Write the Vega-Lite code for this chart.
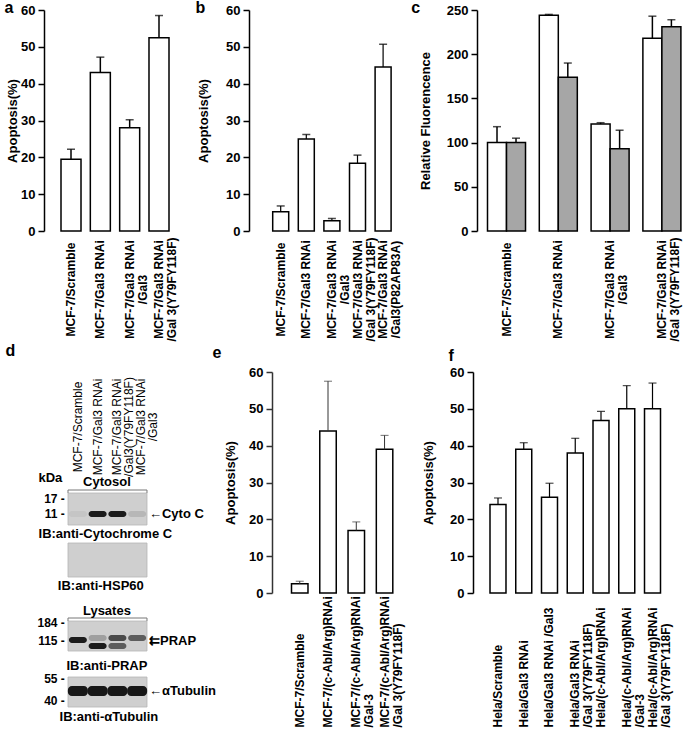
{
  "$schema": "https://vega.github.io/schema/vega-lite/v6.json",
  "padding": {"left": 4, "top": 0, "right": 0, "bottom": 0},
  "background": "white",
  "config": {
    "view": {"stroke": null},
    "font": "Liberation Sans",
    "axis": {"labelFont": "Liberation Sans", "labelFontWeight": "bold", "labelFontSize": 13, "labelColor": "black", "titleFont": "Liberation Sans", "titleFontWeight": "bold", "titleFontSize": 13, "titleColor": "black", "grid": false, "domainColor": "black", "tickColor": "black", "domainWidth": 1.5, "tickWidth": 1.5, "labelOverlap": false},
    "title": {"font": "Liberation Sans", "fontWeight": "bold", "fontSize": 16, "anchor": "start", "frame": "bounds", "color": "black"},
    "text": {"font": "Liberation Sans", "fontWeight": "bold", "fontSize": 13, "baseline": "middle", "color": "black"}
  },
  "datasets": {
    "a": [
      {"group": "MCF-7/Scramble", "value": 19.5, "err": 22.2},
      {"group": "MCF-7/Gal3 RNAi", "value": 43, "err": 47.2},
      {"group": "MCF-7/Gal3 RNAi\n/Gal3", "value": 28, "err": 30.2},
      {"group": "MCF-7/Gal3 RNAi\n/Gal 3(Y79FY118F)", "value": 52.5, "err": 58.5}
    ],
    "b": [
      {"group": "MCF-7/Scramble", "value": 5.2, "err": 6.8},
      {"group": "MCF-7/Gal3 RNAi", "value": 25, "err": 26.2},
      {"group": "MCF-7/Gal3 RNAi\n/Gal3", "value": 2.8, "err": 3.4},
      {"group": "MCF-7/Gal3 RNAi\n/Gal 3(Y79FY118F)", "value": 18.4, "err": 20.6},
      {"group": "MCF-7/Gal3 RNAi\n/Gal3(P82AP83A)", "value": 44.5, "err": 50.7}
    ],
    "c": [
      {"group": "MCF-7/Scramble", "series": "1", "value": 100, "err": 118},
      {"group": "MCF-7/Scramble", "series": "2", "value": 100, "err": 105},
      {"group": "MCF-7/Gal3 RNAi", "series": "1", "value": 244, "err": 245},
      {"group": "MCF-7/Gal3 RNAi", "series": "2", "value": 174, "err": 190},
      {"group": "MCF-7/Gal3 RNAi\n/Gal3", "series": "1", "value": 121, "err": 122.5},
      {"group": "MCF-7/Gal3 RNAi\n/Gal3", "series": "2", "value": 93, "err": 114},
      {"group": "MCF-7/Gal3 RNAi\n/Gal 3(Y79FY118F)", "series": "1", "value": 218, "err": 243},
      {"group": "MCF-7/Gal3 RNAi\n/Gal 3(Y79FY118F)", "series": "2", "value": 231, "err": 239}
    ],
    "e": [
      {"group": "MCF-7/Scramble", "value": 2.5, "err": 3.2},
      {"group": "MCF-7/(c-Abl/Arg)RNAi", "value": 44, "err": 57.5},
      {"group": "MCF-7/(c-Abl/Arg)RNAi\n/Gal-3", "value": 17, "err": 19.3},
      {"group": "MCF-7/(c-Abl/Arg)RNAi\n/Gal 3(Y79FY118F)", "value": 39, "err": 42.8}
    ],
    "f": [
      {"group": "Hela/Scramble", "value": 24, "err": 25.8},
      {"group": "Hela/Gal3 RNAi", "value": 39, "err": 40.8},
      {"group": "Hela/Gal3 RNAi /Gal3", "value": 26, "err": 29.8},
      {"group": "Hela/Gal3 RNAi\n/Gal 3(Y79FY118F)", "value": 38, "err": 42},
      {"group": "Hela/(c-Abl/Arg)RNAi", "value": 46.8, "err": 49.3},
      {"group": "Hela/(c-Abl/Arg)RNAi\n/Gal-3", "value": 50, "err": 56.3},
      {"group": "Hela/(c-Abl/Arg)RNAi\n/Gal 3(Y79FY118F)", "value": 50, "err": 57}
    ],
    "d_blots": [
      {"blot": "Cytochrome C", "lane": 0.5, "lane_end": 4.5, "pos": 494, "pos_end": 526},
      {"blot": "HSP60", "lane": 0.5, "lane_end": 4.5, "pos": 544, "pos_end": 578},
      {"blot": "PRAP", "lane": 0.5, "lane_end": 4.5, "pos": 622, "pos_end": 652},
      {"blot": "Tubulin", "lane": 0.5, "lane_end": 4.5, "pos": 678, "pos_end": 708}
    ],
    "d_bands": [
      {"blot": "Cytochrome C", "lane": 1, "pos": 515, "intensity": 0.05},
      {"blot": "Cytochrome C", "lane": 2, "pos": 515, "intensity": 0.95},
      {"blot": "Cytochrome C", "lane": 3, "pos": 515, "intensity": 0.95},
      {"blot": "Cytochrome C", "lane": 4, "pos": 515, "intensity": 0.12},
      {"blot": "PRAP", "lane": 1, "pos": 641, "intensity": 0.95},
      {"blot": "PRAP", "lane": 2, "pos": 639, "intensity": 0.25},
      {"blot": "PRAP", "lane": 3, "pos": 639, "intensity": 0.7},
      {"blot": "PRAP", "lane": 4, "pos": 639, "intensity": 0.6},
      {"blot": "PRAP", "lane": 2, "pos": 647, "intensity": 0.95},
      {"blot": "PRAP", "lane": 3, "pos": 647, "intensity": 0.6},
      {"blot": "Tubulin", "lane": 1, "pos": 692, "intensity": 0.97},
      {"blot": "Tubulin", "lane": 2, "pos": 692, "intensity": 0.97},
      {"blot": "Tubulin", "lane": 3, "pos": 692, "intensity": 0.97},
      {"blot": "Tubulin", "lane": 4, "pos": 692, "intensity": 0.97}
    ],
    "d_brackets": [
      {"label": "Cytosol", "lane": 0.5, "lane_end": 4.5, "pos": 491},
      {"label": "Lysates", "lane": 0.5, "lane_end": 4.5, "pos": 619}
    ],
    "d_bracket_ends": [
      {"label": "Cytosol", "lane": 0.5, "pos": 491, "pos_end": 494},
      {"label": "Cytosol", "lane": 4.5, "pos": 491, "pos_end": 494},
      {"label": "Lysates", "lane": 0.5, "pos": 619, "pos_end": 622},
      {"label": "Lysates", "lane": 4.5, "pos": 619, "pos_end": 622}
    ],
    "d_lanes": [
      {"lane": 1, "pos": 428, "text": "MCF-7/Scramble"},
      {"lane": 2, "pos": 428, "text": "MCF-7/Gal3 RNAi"},
      {"lane": 3, "pos": 428, "text": "MCF-7/Gal3 RNAi\n/Gal3(Y79FY118F)"},
      {"lane": 4.2, "pos": 428, "text": "MCF-7/Gal3 RNAi\n/Gal3"}
    ],
    "d_text": [
      {"role": "caption", "text": "kDa", "lane": -0.39, "pos": 479},
      {"role": "caption", "text": "Cytosol", "lane": 2.47, "pos": 483},
      {"role": "caption", "text": "IB:anti-Cytochrome C", "lane": 2.39, "pos": 535},
      {"role": "caption", "text": "IB:anti-HSP60", "lane": 2.16, "pos": 587},
      {"role": "caption", "text": "Lysates", "lane": 2.47, "pos": 612},
      {"role": "caption", "text": "IB:anti-PRAP", "lane": 2.47, "pos": 667},
      {"role": "caption", "text": "IB:anti-αTubulin", "lane": 2.57, "pos": 718},
      {"role": "marker", "text": "17 -", "lane": 0.34, "pos": 500},
      {"role": "marker", "text": "11 -", "lane": 0.34, "pos": 515},
      {"role": "marker", "text": "184 -", "lane": 0.34, "pos": 624},
      {"role": "marker", "text": "115 -", "lane": 0.34, "pos": 642},
      {"role": "marker", "text": "55 -", "lane": 0.34, "pos": 680},
      {"role": "marker", "text": "40 -", "lane": 0.34, "pos": 702},
      {"role": "target", "text": "←Cyto C", "lane": 4.6, "pos": 515},
      {"role": "target", "text": "⇇PRAP", "lane": 4.6, "pos": 642},
      {"role": "target", "text": "←αTubulin", "lane": 4.6, "pos": 692}
    ]
  },
  "spacing": 1,
  "vconcat": [
    {
      "bounds": "flush",
      "spacing": 0,
      "hconcat": [
        {
          "width": 205, "height": 221,
          "title": {"text": "a", "offset": -12, "dx": -2},
          "data": {"name": "a"},
          "encoding": {
            "x": {"field": "group", "type": "nominal", "sort": null,
              "scale": {"paddingInner": 0.318, "paddingOuter": 0, "range": [17, 125]},
              "axis": {"title": null, "labelAngle": -90, "labelAlign": "center", "labelBaseline": "middle", "labelPadding": 58, "ticks": false, "tickSize": 0, "domain": false, "labelFontSize": 12, "labelLineHeight": 13, "labelLimit": 0, "labelExpr": "split(datum.label, '\\n')"}}
          },
          "layer": [
            {"mark": {"type": "bar", "fill": "white", "stroke": "black", "strokeWidth": 1.5},
             "encoding": {"y": {"field": "value", "type": "quantitative", "scale": {"domain": [0, 60], "nice": false},
               "axis": {"title": "Apoptosis(%)", "values": [0, 10, 20, 30, 40, 50, 60], "tickSize": 6, "labelPadding": 3, "titlePadding": 1}}}},
            {"mark": {"type": "rule", "strokeWidth": 1.5, "color": "black"},
             "encoding": {"y": {"field": "value", "type": "quantitative", "axis": {"title": "Apoptosis(%)", "values": [0, 10, 20, 30, 40, 50, 60], "tickSize": 6, "labelPadding": 3, "titlePadding": 1}}, "y2": {"field": "err"}}},
            {"mark": {"type": "tick", "color": "black", "thickness": 1.5, "size": 8},
             "encoding": {"y": {"field": "err", "type": "quantitative", "axis": {"title": "Apoptosis(%)", "values": [0, 10, 20, 30, 40, 50, 60], "tickSize": 6, "labelPadding": 3, "titlePadding": 1}}}}
          ]
        },
        {
          "width": 228, "height": 221,
          "title": {"text": "b", "offset": -12, "dx": -2},
          "data": {"name": "b"},
          "encoding": {
            "x": {"field": "group", "type": "nominal", "sort": null,
              "scale": {"paddingInner": 0.375, "paddingOuter": 0, "range": [23.7, 142.1]},
              "axis": {"title": null, "labelAngle": -90, "labelAlign": "center", "labelBaseline": "middle", "labelPadding": 58, "ticks": false, "tickSize": 0, "domain": false, "labelFontSize": 12, "labelLineHeight": 13, "labelLimit": 0, "labelExpr": "split(datum.label, '\\n')"}}
          },
          "layer": [
            {"mark": {"type": "bar", "fill": "white", "stroke": "black", "strokeWidth": 1.5},
             "encoding": {"y": {"field": "value", "type": "quantitative", "scale": {"domain": [0, 60], "nice": false},
               "axis": {"title": "Apoptosis(%)", "values": [0, 10, 20, 30, 40, 50, 60], "tickSize": 6, "labelPadding": 3, "titlePadding": 15}}}},
            {"mark": {"type": "rule", "strokeWidth": 1.2, "color": "black"},
             "encoding": {"y": {"field": "value", "type": "quantitative", "axis": {"title": "Apoptosis(%)", "values": [0, 10, 20, 30, 40, 50, 60], "tickSize": 6, "labelPadding": 3, "titlePadding": 15}}, "y2": {"field": "err"}}},
            {"mark": {"type": "tick", "color": "black", "thickness": 1.5, "size": 8},
             "encoding": {"y": {"field": "err", "type": "quantitative", "axis": {"title": "Apoptosis(%)", "values": [0, 10, 20, 30, 40, 50, 60], "tickSize": 6, "labelPadding": 3, "titlePadding": 15}}}}
          ]
        },
        {
          "width": 210, "height": 221,
          "title": {"text": "c", "offset": -12, "dx": -8},
          "data": {"name": "c"},
          "encoding": {
            "x": {"field": "group", "type": "nominal", "sort": null,
              "scale": {"paddingInner": 0.266, "paddingOuter": 0, "range": [10.5, 203.9]},
              "axis": {"title": null, "labelAngle": -90, "labelAlign": "center", "labelBaseline": "middle", "labelPadding": 58, "ticks": false, "tickSize": 0, "domain": false, "labelFontSize": 12, "labelLineHeight": 13, "labelLimit": 0, "labelExpr": "split(datum.label, '\\n')"}},
            "xOffset": {"field": "series", "type": "nominal", "scale": {"domain": ["1", "2"], "paddingInner": 0, "paddingOuter": 0}}
          },
          "layer": [
            {"mark": {"type": "bar", "stroke": "black", "strokeWidth": 1.5},
             "encoding": {
               "y": {"field": "value", "type": "quantitative", "scale": {"domain": [0, 250], "nice": false},
                 "axis": {"title": "Relative Fluorencence", "values": [0, 50, 100, 150, 200, 250], "tickSize": 6, "labelPadding": 3, "titlePadding": 14}},
               "fill": {"field": "series", "type": "nominal", "scale": {"domain": ["1", "2"], "range": ["white", "#a6a6a6"]}, "legend": null}}},
            {"mark": {"type": "rule", "strokeWidth": 1.5, "color": "black"},
             "encoding": {"y": {"field": "value", "type": "quantitative", "axis": {"title": "Relative Fluorencence", "values": [0, 50, 100, 150, 200, 250], "tickSize": 6, "labelPadding": 3, "titlePadding": 14}}, "y2": {"field": "err"}}},
            {"mark": {"type": "tick", "color": "black", "thickness": 1.5, "size": 8},
             "encoding": {"y": {"field": "err", "type": "quantitative", "axis": {"title": "Relative Fluorencence", "values": [0, 50, 100, 150, 200, 250], "tickSize": 6, "labelPadding": 3, "titlePadding": 14}}}}
          ]
        }
      ]
    },
    {
      "bounds": "flush",
      "spacing": 0,
      "hconcat": [
        {
          "width": 227.5, "height": 368,
          "title": {"text": "d", "offset": 13, "dx": -32},
          "encoding": {
            "x": {"field": "lane", "type": "quantitative", "scale": {"domain": [-0.7152, 10.804], "nice": false, "zero": false}, "axis": null},
            "y": {"field": "pos", "type": "quantitative", "scale": {"domain": [373, 741], "reverse": true, "nice": false, "zero": false}, "axis": null}
          },
          "layer": [
            {"data": {"name": "d_blots"},
             "mark": {"type": "rect", "fill": "#cfcfcf", "stroke": "#b5b5b5", "strokeWidth": 0.8},
             "encoding": {"x2": {"field": "lane_end"}, "y2": {"field": "pos_end"}}},
            {"data": {"name": "d_bands"},
             "transform": [{"filter": "datum.blot != 'Tubulin'"}],
             "mark": {"type": "tick", "orient": "horizontal", "color": "#111", "thickness": 6, "size": 18, "cornerRadius": 3},
             "encoding": {"opacity": {"field": "intensity", "type": "quantitative", "scale": {"domain": [0, 1], "range": [0, 1]}, "legend": null}}},
            {"data": {"name": "d_bands"},
             "transform": [{"filter": "datum.blot == 'Tubulin'"}],
             "mark": {"type": "tick", "orient": "horizontal", "color": "#111", "thickness": 10, "size": 20, "cornerRadius": 4},
             "encoding": {"opacity": {"field": "intensity", "type": "quantitative", "scale": {"domain": [0, 1], "range": [0, 1]}, "legend": null}}},
            {"data": {"name": "d_brackets"},
             "mark": {"type": "rule", "color": "#777", "strokeWidth": 1},
             "encoding": {"x2": {"field": "lane_end"}}},
            {"data": {"name": "d_bracket_ends"},
             "mark": {"type": "rule", "color": "#777", "strokeWidth": 1},
             "encoding": {"y2": {"field": "pos_end"}}},
            {"data": {"name": "d_lanes"},
             "mark": {"type": "text", "angle": 270, "align": "center", "baseline": "middle", "fontSize": 12, "fontWeight": "normal", "lineBreak": "\n", "lineHeight": 12},
             "encoding": {"text": {"field": "text"}}},
            {"data": {"name": "d_text"},
             "transform": [{"filter": "datum.role == 'caption'"}],
             "mark": {"type": "text", "align": "center", "fontSize": 13},
             "encoding": {"text": {"field": "text"}}},
            {"data": {"name": "d_text"},
             "transform": [{"filter": "datum.role == 'marker'"}],
             "mark": {"type": "text", "align": "right", "fontSize": 12},
             "encoding": {"text": {"field": "text"}}},
            {"data": {"name": "d_text"},
             "transform": [{"filter": "datum.role == 'target'"}],
             "mark": {"type": "text", "align": "left", "fontSize": 13},
             "encoding": {"text": {"field": "text"}}}
          ]
        },
        {
          "width": 200.5, "height": 221,
          "title": {"text": "e", "offset": 5, "dx": -12},
          "data": {"name": "e"},
          "encoding": {
            "x": {"field": "group", "type": "nominal", "sort": null,
              "scale": {"paddingInner": 0.417, "paddingOuter": 0, "range": [19.5, 120.8]},
              "axis": {"title": null, "labelAngle": -90, "labelAlign": "left", "labelBaseline": "middle", "labelPadding": 134, "ticks": false, "tickSize": 0, "domain": false, "labelFontSize": 12, "labelLineHeight": 13, "labelLimit": 0, "labelExpr": "split(datum.label, '\\n')"}}
          },
          "layer": [
            {"mark": {"type": "bar", "fill": "white", "stroke": "black", "strokeWidth": 1.5},
             "encoding": {"y": {"field": "value", "type": "quantitative", "scale": {"domain": [0, 60], "nice": false},
               "axis": {"title": "Apoptosis(%)", "values": [0, 10, 20, 30, 40, 50, 60], "tickSize": 6, "labelPadding": 3, "titlePadding": 11, "domainColor": "#333", "tickColor": "#333"}}}},
            {"mark": {"type": "rule", "strokeWidth": 1, "color": "#333"},
             "encoding": {"y": {"field": "value", "type": "quantitative", "axis": {"title": "Apoptosis(%)", "values": [0, 10, 20, 30, 40, 50, 60], "tickSize": 6, "labelPadding": 3, "titlePadding": 11, "domainColor": "#333", "tickColor": "#333"}}, "y2": {"field": "err"}}},
            {"mark": {"type": "tick", "color": "#333", "thickness": 1, "size": 8},
             "encoding": {"y": {"field": "err", "type": "quantitative", "axis": {"title": "Apoptosis(%)", "values": [0, 10, 20, 30, 40, 50, 60], "tickSize": 6, "labelPadding": 3, "titlePadding": 11, "domainColor": "#333", "tickColor": "#333"}}}}
          ]
        },
        {
          "width": 215, "height": 221,
          "title": {"text": "f", "offset": 2, "dx": 26},
          "data": {"name": "f"},
          "encoding": {
            "x": {"field": "group", "type": "nominal", "sort": null,
              "scale": {"paddingInner": 0.379, "paddingOuter": 0, "range": [17, 187.5]},
              "axis": {"title": null, "labelAngle": -90, "labelAlign": "left", "labelBaseline": "middle", "labelPadding": 134, "ticks": false, "tickSize": 0, "domain": false, "labelFontSize": 12, "labelLineHeight": 13, "labelLimit": 0, "labelExpr": "split(datum.label, '\\n')"}}
          },
          "layer": [
            {"mark": {"type": "bar", "fill": "white", "stroke": "black", "strokeWidth": 1.5},
             "encoding": {"y": {"field": "value", "type": "quantitative", "scale": {"domain": [0, 60], "nice": false},
               "axis": {"title": "Apoptosis(%)", "values": [0, 10, 20, 30, 40, 50, 60], "tickSize": 6, "labelPadding": 3, "titlePadding": 14}}}},
            {"mark": {"type": "rule", "strokeWidth": 1.2, "color": "black"},
             "encoding": {"y": {"field": "value", "type": "quantitative", "axis": {"title": "Apoptosis(%)", "values": [0, 10, 20, 30, 40, 50, 60], "tickSize": 6, "labelPadding": 3, "titlePadding": 14}}, "y2": {"field": "err"}}},
            {"mark": {"type": "tick", "color": "black", "thickness": 1.2, "size": 8},
             "encoding": {"y": {"field": "err", "type": "quantitative", "axis": {"title": "Apoptosis(%)", "values": [0, 10, 20, 30, 40, 50, 60], "tickSize": 6, "labelPadding": 3, "titlePadding": 14}}}}
          ]
        }
      ]
    }
  ]
}
